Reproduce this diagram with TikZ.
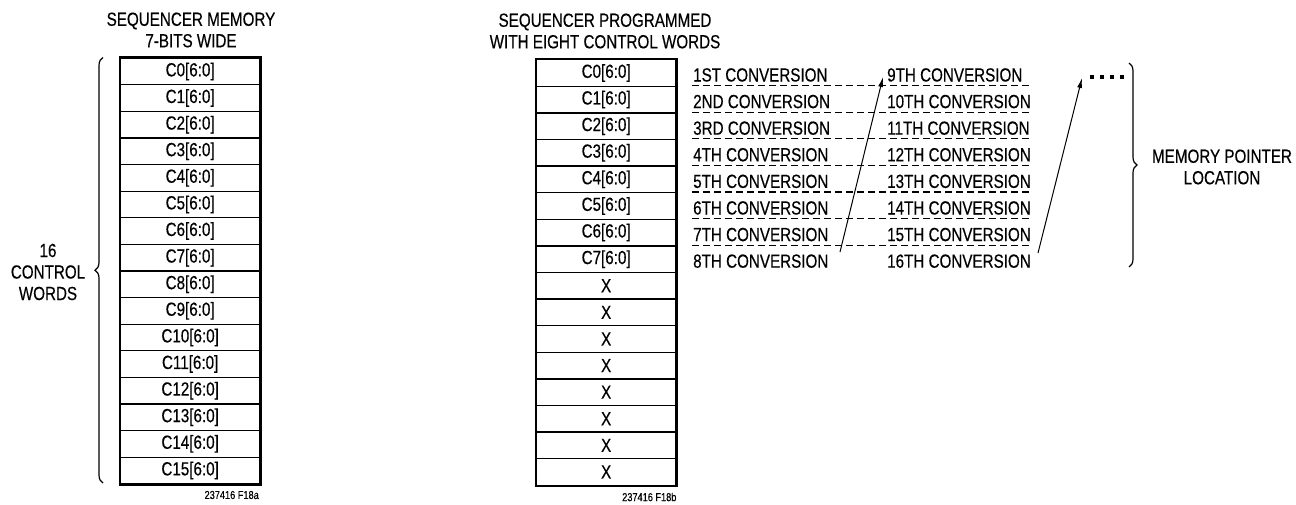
\documentclass[tikz,border=0pt]{standalone}
\usepackage{fontspec}
\setmainfont{Liberation Sans}[FakeStretch=0.8,FakeBold=0.4]
\usetikzlibrary{decorations.pathreplacing,arrows.meta}
\begin{document}
\begin{tikzpicture}[x=1pt,y=-1pt,
  txt/.style={font=\fontsize{19}{21.5}\selectfont, inner sep=0pt, align=center},
  cell/.style={draw, line width=1.3pt, minimum width=139pt, minimum height=26.6pt, inner sep=0pt, font=\fontsize{19}{21}\selectfont, anchor=north west},
  outer/.style={line width=2.5pt},
  conv/.style={font=\fontsize{19}{21}\selectfont, inner sep=0pt, anchor=base west},
  sepline/.style={dashed, dash pattern=on 7pt off 4pt, line width=1.2pt},
  arr/.style={line width=1pt, -{Latex[length=10pt,width=5pt]}},
  brc/.style={line width=1.2pt, decorate, decoration={brace, amplitude=8pt}},
  foot/.style={font=\fontsize{11.5}{12}\selectfont, inner sep=0pt}
]
\useasboundingbox (0,0) rectangle (1296,504);

% titles
\node[txt] (tl) at (191,30) {SEQUENCER MEMORY\\7-BITS WIDE};
\node[txt] (tr) at (605,31) {SEQUENCER PROGRAMMED\\WITH EIGHT CONTROL WORDS};

% left table
\foreach \i in {0,...,15}
  \node[cell] (a\i) at (120,{57.5+26.6*\i}) {C\i[6:0]};
\draw[outer] (a0.north west) rectangle (a15.south east);

% right table
\foreach \i in {0,...,7}
  \node[cell] (b\i) at (536,{59+26.6*\i}) {C\i[6:0]};
\foreach \i in {8,...,15}
  \node[cell] (b\i) at (536,{59+26.6*\i}) {X};
\draw[outer] (b0.north west) rectangle (b15.south east);

% left brace and label
\draw[brc] (103,483) -- (103,57.5);
\node[txt] (cw) at (48,272) {16\\CONTROL\\WORDS};

% conversions
\foreach \n/\t [count=\k from 0] in {1/1ST,2/2ND,3/3RD,4/4TH,5/5TH,6/6TH,7/7TH,8/8TH}
  \node[conv] (l\n) at (693,{59+26.6*\k+22.5}) {\t\ CONVERSION};
\foreach \n [count=\k from 0] in {9,...,16}
  \node[conv] (r\n) at (887,{59+26.6*\k+22.5}) {\n TH CONVERSION};

\foreach \k in {1,...,7}
  \draw[sepline] (692,{59+26.6*\k}) -- (1031,{59+26.6*\k});

% arrows
\coordinate (s1) at (840,252);
\coordinate (e1) at (883,77);
\draw[arr] (s1) -- (e1);
\coordinate (s2) at (1038,253);
\coordinate (e2) at (1082,78);
\draw[arr] (s2) -- (e2);

% dots
\foreach \x in {1092,1102,1112,1122}
  \fill (\x-1.7,75.3) rectangle (\x+1.7,78.7);

% right brace and label
\draw[brc] (1129,63) -- (1129,267);
\node[txt] (mp) at (1222,167) {MEMORY POINTER\\LOCATION};

% footnotes
\node[foot, anchor=east] (fa) at (259,495) {237416 F18a};
\node[foot, anchor=west] (fb) at (622,497) {237416 F18b};
\end{tikzpicture}
\end{document}
